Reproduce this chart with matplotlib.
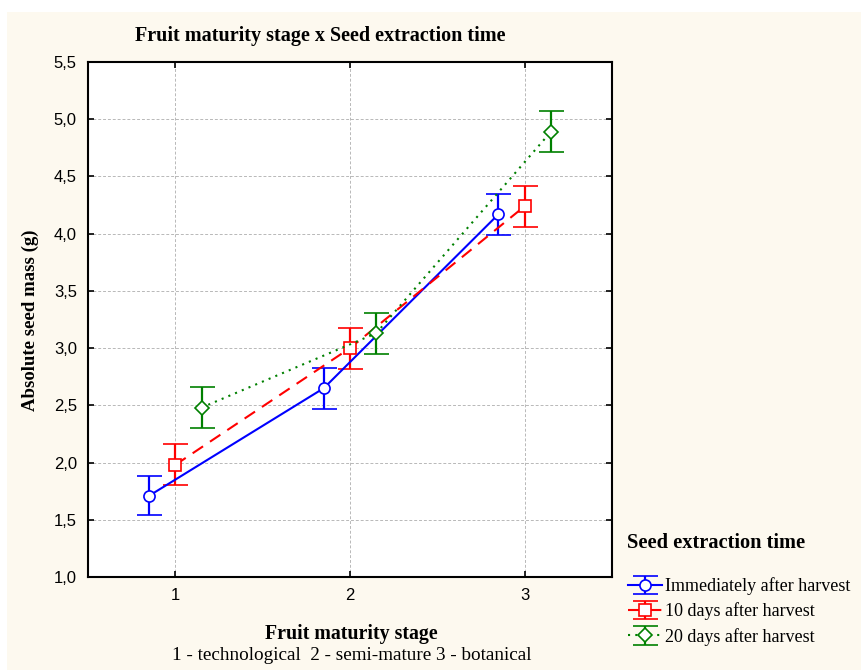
import numpy as np
import matplotlib.pyplot as plt
from matplotlib.patches import Rectangle
from matplotlib.ticker import FuncFormatter

# data
stages = [1, 2, 3]
series_names = ["Immediately after harvest", "10 days after harvest", "20 days after harvest"]
immediately = [1.71, 2.65, 4.17]
immediately_err = [0.17, 0.18, 0.18]
days10 = [1.98, 3.00, 4.24]
days10_err = [0.18, 0.18, 0.18]
days20 = [2.48, 3.13, 4.89]
days20_err = [0.18, 0.18, 0.18]

serif = "Liberation Serif"
sans = "Liberation Sans"

fig = plt.figure(figsize=(8.61, 6.70), dpi=100, facecolor="white")
# cream background (leaves a thin white strip on top and left like the original)
fig.patches.append(Rectangle((7 / 861, 0), 1, (670 - 12) / 670, transform=fig.transFigure,
                             facecolor="#fdf9ef", edgecolor="none", zorder=-10))

ax = fig.add_axes([88 / 861, 93 / 670, 524 / 861, 515 / 670])
ax.set_facecolor("white")

styles = [("blue", "-", "o", -0.15), ("red", (0, (6, 4)), "s", 0.0), ("green", (0, (1, 2.5)), "D", 0.15)]
vals = [immediately, days10, days20]
errs = [immediately_err, days10_err, days20_err]
handles = []
for (c, ls, m, off), v, e, name in zip(styles, vals, errs, series_names):
    x = np.array(stages) + off
    ms = 8 if m != "D" else 7
    h = ax.errorbar(x, v, yerr=e, color=c, ls=ls, lw=1.5, marker=m, ms=ms, mfc="white",
                    mec=c, mew=1.2, capsize=9, capthick=1.6, elinewidth=1.6, label=name)
    handles.append(h)

ax.set_xlim(0.5, 3.5)
ax.set_ylim(1.0, 5.5)
ax.set_xticks(stages)
ax.set_yticks(np.arange(1.0, 5.51, 0.5))
ax.yaxis.set_major_formatter(FuncFormatter(lambda v, p: f"{v:.1f}".replace(".", ",")))
ax.grid(True, color="#b8b8b8", ls=(0, (3, 2)), lw=0.7)
ax.set_axisbelow(True)
ax.tick_params(direction="in", length=4, width=1.2, top=True, right=True, labelsize=12, pad=8)
for lab in ax.get_xticklabels() + ax.get_yticklabels():
    lab.set_fontfamily(sans)
for s in ax.spines.values():
    s.set_linewidth(1.5)

fig.text(320 / 861, 1 - 36 / 670, "Fruit maturity stage x Seed extraction time", ha="center", va="center",
         family=serif, weight="bold", fontsize=14.5)
fig.text(30 / 861, 1 - 320 / 670, "Absolute seed mass (g)", rotation=90, ha="center", va="center",
         family=serif, weight="bold", fontsize=13.5)
fig.text(351 / 861, 1 - 634 / 670, "Fruit maturity stage", ha="center", va="center",
         family=serif, weight="bold", fontsize=14.3)
fig.text(352 / 861, 1 - 656 / 670, "1 - technological  2 - semi-mature 3 - botanical", ha="center",
         va="center", family=serif, fontsize=13.8)
fig.text(627 / 861, 1 - 543 / 670, "Seed extraction time", ha="left", va="center",
         family=serif, weight="bold", fontsize=14.7)

fig.legend(handles=handles, labels=series_names, loc="upper left",
           bbox_to_anchor=(628 / 861, 1 - 577 / 670), frameon=False,
           prop={"family": serif, "size": 13}, handlelength=1.9, handletextpad=0.15,
           labelspacing=0.42, borderaxespad=0, borderpad=0)

fig.savefig("out.png", dpi=100, facecolor=fig.get_facecolor())
